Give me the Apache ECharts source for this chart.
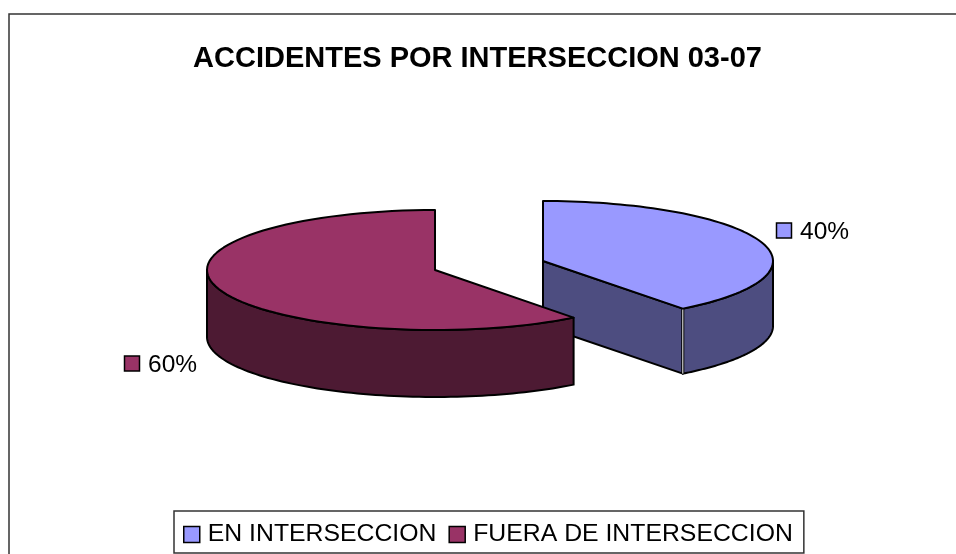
<!DOCTYPE html>
<html>
<head>
<meta charset="utf-8">
<style>html,body{margin:0;padding:0;background:#fff}#chart{width:956px;height:554px}</style>
<script src="https://cdn.jsdelivr.net/npm/echarts@6/dist/echarts.min.js"></script>
</head>
<body>
<div id="chart"></div>
<script>
var categories = ['EN INTERSECCION', 'FUERA DE INTERSECCION'];
var values = [39.6, 60.4];
var topColors = ['#9999ff', '#993366'];
var sideColors = ['#4d4d80', '#4d1a33'];
var FONT = '"Liberation Sans", Arial, sans-serif';

// where each slice sits: the pie is split in two so each has its own centre
var layouts = [
  { cx: 543, cy: 261, rx: 230, ry: 60, depth: 65, labelX: 800, labelY: 232, keyX: 776.5 },
  { cx: 435, cy: 270, rx: 228, ry: 60, depth: 67, labelX: 148, labelY: 365, keyX: 124.5 }
];

var total = values[0] + values[1];

// angle measured clockwise from the top of the ellipse
function pt(l, a, dy) {
  return [l.cx + l.rx * Math.sin(a), l.cy - l.ry * Math.cos(a) + (dy || 0)];
}
function arc(l, a0, a1, dy) {
  var pts = [], n = 80;
  for (var i = 0; i <= n; i++) pts.push(pt(l, a0 + (a1 - a0) * i / n, dy));
  return pts;
}

function makeRender(idx, a0, a1) {
  return function () {
    var l = layouts[idx];
    var els = [];
    var line = { stroke: '#000', lineWidth: 2, lineJoin: 'round' };
    function poly(points, fill) {
      els.push({ type: 'polygon', shape: { points: points }, style: Object.assign({ fill: fill }, line) });
    }
    var c = [l.cx, l.cy], cb = [l.cx, l.cy + l.depth];
    // visible part of the rim: only the front half of the ellipse
    var r0 = Math.max(a0, Math.PI / 2), r1 = Math.min(a1, Math.PI * 1.5);
    if (idx === 0) {
      // radial wall facing the viewer
      poly([c, pt(l, a1), pt(l, a1, l.depth), cb], sideColors[idx]);
    }
    poly(arc(l, r0, r1).concat(arc(l, r1, r0, l.depth)), sideColors[idx]);
    if (idx === 0) {
      // thin light gap where the two walls meet
      var p0 = pt(l, a1), p1 = pt(l, a1, l.depth);
      els.push({ type: 'line', shape: { x1: p0[0], y1: p0[1], x2: p1[0], y2: p1[1] },
        style: { stroke: '#000', lineWidth: 3 } });
      els.push({ type: 'line', shape: { x1: p0[0], y1: p0[1], x2: p1[0], y2: p1[1] },
        style: { stroke: '#fff', lineWidth: 1 } });
    }
    poly([c].concat(arc(l, a0, a1)), topColors[idx]);
    // percent label with its key
    els.push({ type: 'rect', shape: { x: l.keyX, y: l.labelY - 9, width: 15, height: 15 },
      style: { fill: topColors[idx], stroke: '#000', lineWidth: 1.5 } });
    els.push({ type: 'text', x: l.labelX, y: l.labelY,
      style: { text: Math.round(values[idx] / total * 100) + '%', fill: '#000',
        font: '24.5px ' + FONT, textAlign: 'left', textVerticalAlign: 'middle' } });
    return { type: 'group', children: els };
  };
}

var a = values[0] / total * Math.PI * 2;
var series = [
  { name: categories[0], type: 'custom', coordinateSystem: 'none', z: 2,
    itemStyle: { color: topColors[0] }, data: [values[0]], renderItem: makeRender(0, 0, a) },
  { name: categories[1], type: 'custom', coordinateSystem: 'none', z: 3,
    itemStyle: { color: topColors[1] }, data: [values[1]], renderItem: makeRender(1, a, Math.PI * 2) }
];

var myChart = echarts.init(document.getElementById('chart'), null, { renderer: 'canvas' });
myChart.setOption({
  animation: false,
  backgroundColor: '#fff',
  title: {
    text: 'ACCIDENTES POR INTERSECCION 03-07',
    left: 472.5, top: 39, textAlign: 'center',
    textStyle: { fontFamily: FONT, fontWeight: 'bold', fontSize: 29, color: '#000' }
  },
  legend: {
    data: categories,
    left: 174, top: 511,
    orient: 'horizontal',
    icon: 'rect',
    itemWidth: 16, itemHeight: 16, itemGap: 12,
    padding: [11, 11, 6, 9],
    borderColor: '#333', borderWidth: 1.5,
    selectedMode: false,
    itemStyle: { borderColor: '#000', borderWidth: 1.5 },
    textStyle: { fontFamily: FONT, fontSize: 24.8, color: '#000', padding: [0, 0, 0, 3] }
  },
  graphic: [{ type: 'rect', z: -1, silent: true,
    shape: { x: 9, y: 14, width: 1000, height: 600 },
    style: { fill: 'none', stroke: '#333', lineWidth: 1.5 } }],
  series: series
});
</script>
</body>
</html>
